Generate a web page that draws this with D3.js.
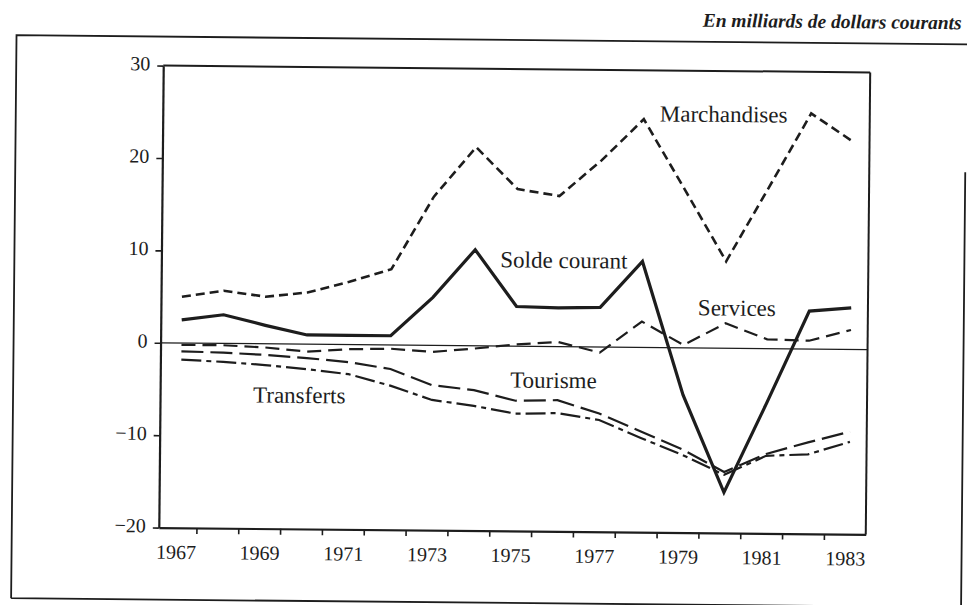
<!DOCTYPE html>
<html><head><meta charset="utf-8">
<script src="https://cdn.jsdelivr.net/npm/d3@7"></script>
<style>html,body{margin:0;padding:0;background:#fff;} svg{display:block;}</style>
</head><body>
<svg id="c" width="967" height="605"></svg>
<script>
// ---- data (milliards de dollars courants) ----
const years        = [1967,1968,1969,1970,1971,1972,1973,1974,1975,1976,1977,1978,1979,1980,1981,1982,1983];
const marchandises = [5.0, 5.7, 5.1, 5.6, 6.8, 8.2, 16.1, 21.5, 17.0, 16.3, 20.2, 24.7, 17.1, 9.4, 17.4, 25.5, 22.5];
const soldeCourant = [2.5, 3.1, 2.0, 1.0, 1.0, 1.0, 5.2, 10.4, 4.3, 4.2, 4.3, 9.3, -5.1, -15.6, -5.9, 4.1, 4.5];
const services     = [-0.2, -0.2, -0.4, -0.8, -0.5, -0.4, -0.7, -0.3, 0.2, 0.5, -0.6, 2.8, 0.3, 2.7, 1.0, 0.9, 2.1];
const tourisme     = [-0.9, -1.0, -1.2, -1.5, -1.9, -2.6, -4.3, -4.8, -5.9, -5.8, -7.2, -9.1, -11.0, -13.4, -11.4, -10.1, -8.9];
const transferts   = [-1.8, -2.0, -2.3, -2.7, -3.2, -4.4, -5.9, -6.5, -7.3, -7.2, -7.9, -9.8, -11.6, -13.7, -11.6, -11.4, -10.0];
const yTicks       = [-20, -10, 0, 10, 20, 30];
const xLabelYears  = [1967, 1969, 1971, 1973, 1975, 1977, 1979, 1981, 1983];
const seriesNames  = ["Marchandises", "Solde courant", "Services", "Tourisme", "Transferts"];
const unitTitle    = "En milliards de dollars courants";

// ---- drawing ----
const W = 967, H = 605;
const ink = "#1d1d1d";
const serif = "'Liberation Serif', 'Times New Roman', serif";
const svg = d3.select("#c");
svg.append("rect").attr("width", W).attr("height", H).attr("fill", "#fff");
const g = svg.append("g").attr("transform", "rotate(0.55,515,300)");

const x = d3.scaleLinear().domain([1966.5, 1983.4]).range([161, 868]);
const y = d3.scaleLinear().domain([-20, 30]).range([531, 69]);

// outer page frame
g.append("path")
  .attr("d", "M14,603 L14,40 L975,40 M964,168 L964,610 M14,603 L975,603")
  .attr("fill", "none").attr("stroke", ink).attr("stroke-width", 1.8);

// unit title
g.append("text").attr("x", 700).attr("y", 25)
  .attr("font-family", serif).attr("font-size", 19.5)
  .attr("font-weight", "bold").attr("font-style", "italic")
  .attr("fill", ink).text(unitTitle);

// plot frame (top + right)
g.append("line").attr("x1", x.range()[0]).attr("x2", x.range()[1])
  .attr("y1", y(30)).attr("y2", y(30)).attr("stroke", ink).attr("stroke-width", 2);
g.append("line").attr("x1", x.range()[1]).attr("x2", x.range()[1])
  .attr("y1", y(30)).attr("y2", y(-20)).attr("stroke", ink).attr("stroke-width", 2);

// zero line
g.append("line").attr("x1", x.range()[0]).attr("x2", x.range()[1])
  .attr("y1", y(0)).attr("y2", y(0)).attr("stroke", ink).attr("stroke-width", 1.3);

// y axis
const fmt = d => d < 0 ? "\u2212" + Math.abs(d) : String(d);
const ya = g.append("g").attr("transform", `translate(${x.range()[0]},0)`)
  .call(d3.axisLeft(y).tickValues(yTicks).tickSize(6).tickSizeOuter(0).tickPadding(7).tickFormat(fmt));
ya.select(".domain").attr("stroke", ink).attr("stroke-width", 2.2);
ya.selectAll(".tick line").attr("stroke", ink).attr("stroke-width", 1.6);
ya.selectAll(".tick text").attr("font-family", serif).attr("font-size", 20).attr("fill", ink).attr("dy", "0.22em");

// x axis: ticks at year boundaries, labels at odd years
const xa = g.append("g").attr("transform", `translate(0,${y(-20)})`)
  .call(d3.axisBottom(x).tickValues(years.slice(0, 16).map(v => v + 0.4)).tickSize(6).tickSizeOuter(0).tickFormat(""));
xa.select(".domain").attr("stroke", ink).attr("stroke-width", 2.2);
xa.selectAll(".tick line").attr("stroke", ink).attr("stroke-width", 1.6);
const xl = g.append("g").attr("transform", `translate(0,${y(-20)})`)
  .call(d3.axisBottom(x).tickValues(xLabelYears).tickSize(0).tickPadding(17).tickFormat(d3.format("d")));
xl.select(".domain").remove();
xl.selectAll(".tick text").attr("font-family", serif).attr("font-size", 20).attr("fill", ink).attr("dx", -4);

// series
const series = [
  {name: seriesNames[0], values: marchandises, width: 2.6, dash: "9,5"},
  {name: seriesNames[1], values: soldeCourant, width: 3.2, dash: null},
  {name: seriesNames[2], values: services,     width: 2.2, dash: "14,7"},
  {name: seriesNames[3], values: tourisme,     width: 2.2, dash: "22,7"},
  {name: seriesNames[4], values: transferts,   width: 2.2, dash: "20,5,5,5"}
];
const line = d3.line().x((d, i) => x(years[i])).y(d => y(d));
g.selectAll("path.series").data(series).join("path")
  .attr("class", "series")
  .attr("d", s => line(s.values))
  .attr("fill", "none").attr("stroke", ink)
  .attr("stroke-width", s => s.width)
  .attr("stroke-dasharray", s => s.dash)
  .attr("stroke-linejoin", "miter");

// series labels
const labelPos = [[658, 120], [500, 267.5], [698, 313.5], [511, 387.6], [254, 405]];
g.selectAll("text.lab").data(seriesNames).join("text")
  .attr("class", "lab")
  .attr("x", (d, i) => labelPos[i][0]).attr("y", (d, i) => labelPos[i][1])
  .attr("font-family", serif).attr("font-size", 23).attr("fill", ink)
  .text(d => d);
</script>
</body></html>
